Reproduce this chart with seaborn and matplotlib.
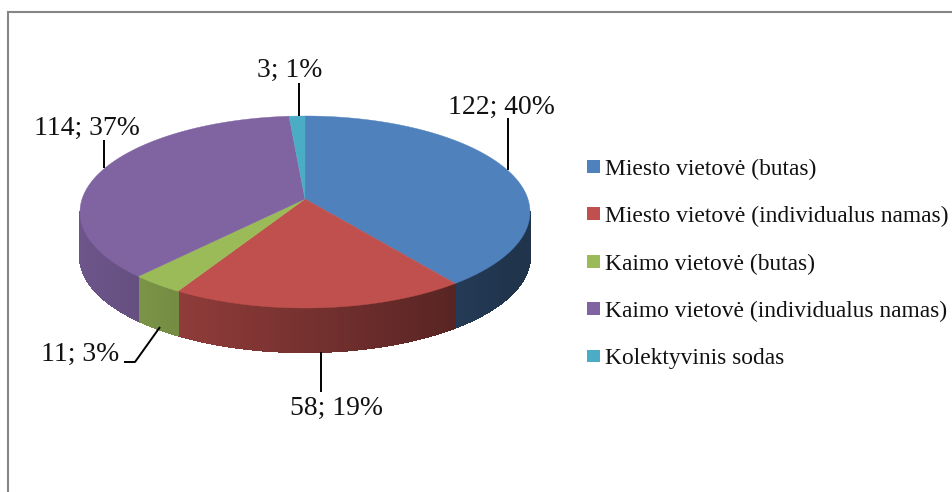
import numpy as np
import matplotlib
matplotlib.use('Agg')
import matplotlib.pyplot as plt
from matplotlib.patches import Patch
import seaborn as sns

categories = ['Miesto vietovė (butas)', 'Miesto vietovė (individualus namas)', 'Kaimo vietovė (butas)',
              'Kaimo vietovė (individualus namas)', 'Kolektyvinis sodas']
values = [122, 58, 11, 114, 3]
percents = [40, 19, 3, 37, 1]
colors = ['#4F81BD', '#C0504D', '#9BBB59', '#8064A2', '#4BACC6']

sns.set_theme(style='white')
plt.rcParams['font.family'] = ['Liberation Serif', 'DejaVu Serif']

# pixel style axes, so the fake 3d pie can be placed by eye
fig = plt.figure(figsize=(9.52, 4.92), dpi=100)
ax = fig.add_axes([8 / 952, 0, 944 / 952, 480 / 492])
ax.set_xlim(8, 952)
ax.set_ylim(492, 12)
ax.set_xticks([])
ax.set_yticks([])
sns.despine(ax=ax, right=True, bottom=True, left=False, top=False)
for s in ['left', 'top']:
    ax.spines[s].set_color('#868686')
    ax.spines[s].set_linewidth(1.5)

cx, cy, rx, ry = 305, 212, 225, 96
apex_y = 199
depth = 44


def warp(t):
    # tilt of the pie squeezes the angles a bit
    return t + np.radians(4.6) * np.sin(2 * t)


def rim(t):
    t = warp(t)
    return cx + rx * np.sin(t), cy - ry * np.cos(t)


edges = np.concatenate([[0], np.cumsum(values)]) / sum(values) * 2 * np.pi
palette = sns.color_palette(colors)

# side wall, only the front half shows
for i, col in enumerate(palette):
    steps = np.linspace(edges[i], edges[i + 1], max(int((edges[i + 1] - edges[i]) * 90), 2))
    for a, b in zip(steps[:-1], steps[1:]):
        xa, ya = rim(a)
        xb, yb = rim(b)
        if ya < cy and yb < cy:
            continue
        shade = np.clip(0.85 - 0.47 * ((xa + xb) / 2 - 80) / 450, 0.4, 0.85)
        side = tuple(np.array(col) * shade)
        # a real polygon per step, edges off aa so no seams show
        ax.fill([xa, xb, xb, xa], [ya, yb, yb + depth, ya + depth], facecolor=side, edgecolor=side, lw=1.0,
                antialiased=False, zorder=2)

# top face
for i, col in enumerate(palette):
    steps = np.linspace(edges[i], edges[i + 1], max(int((edges[i + 1] - edges[i]) * 90), 2))
    xs, ys = rim(steps)
    ax.fill(np.r_[cx, xs], np.r_[apex_y, ys], color=col, lw=0.3, zorder=3)

# data labels and leader lines
label_xy = [(501, 107), (337, 408), (80, 354), (87, 128), (290, 70)]
leaders = [([508, 508], [118, 170]), ([321, 321], [352, 392]), ([160, 135, 124], [327, 362, 362]),
           ([104, 104], [140, 168]), ([299, 299], [83, 116])]
for v, p, xy, (lx, ly) in zip(values, percents, label_xy, leaders):
    ax.text(xy[0], xy[1], f'{v}; {p}%', fontsize=19.9, color='#111111', ha='center', va='center', zorder=5)
    ax.plot(lx, ly, color='black', lw=1.4, zorder=4, solid_capstyle='butt')

handles = [Patch(facecolor=c, edgecolor='none', label=n) for c, n in zip(palette, categories)]
ax.legend(handles=handles, loc='center left', bbox_to_anchor=(572 / 944, 1 - (264 - 12) / 480), frameon=False,
          fontsize=16.9, labelspacing=1.12, handlelength=0.57, handleheight=0.46, handletextpad=0.18,
          borderpad=0, borderaxespad=0.3, labelcolor='#111111')

fig.savefig('out.png', dpi=100)
